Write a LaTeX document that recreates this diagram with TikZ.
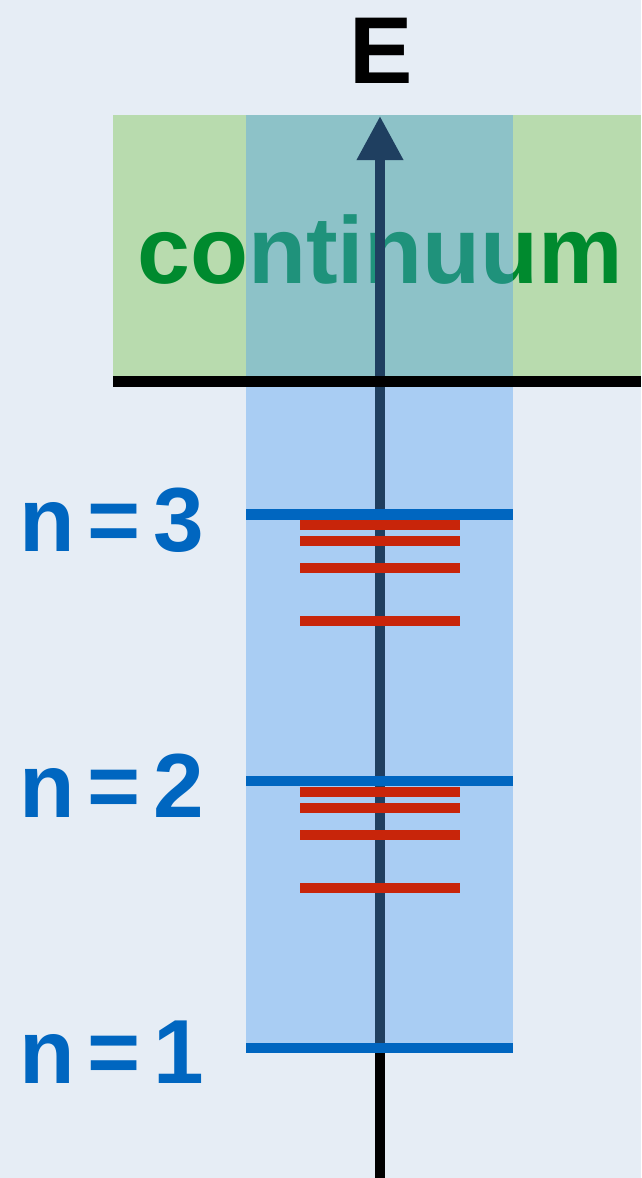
\documentclass[tikz,border=0pt]{standalone}
\usepackage{fontspec}
\setmainfont{Liberation Sans}
\usetikzlibrary{arrows.meta}
\definecolor{bgcol}{HTML}{E6EDF5}
\definecolor{contgreen}{HTML}{B8DBAE}
\definecolor{textgreen}{HTML}{008A2E}
\definecolor{colblue}{HTML}{4E9EF0}
\definecolor{levblue}{HTML}{0066C0}
\definecolor{finered}{HTML}{C8250A}
\tikzset{
  levelline/.style={draw=levblue, line width=10.5pt},
  fineline/.style={draw=finered, line width=10.8pt},
  nlabel/.style={text=levblue, font=\fontsize{91}{91}\selectfont\bfseries\addfontfeatures{LetterSpace=14}, inner sep=0pt, anchor=base west},
  bigtext/.style={font=\fontsize{95}{95}\selectfont\bfseries, inner sep=0pt, anchor=base},
}
\begin{document}
\begin{tikzpicture}[x=1pt,y=-1pt]
\useasboundingbox (0,0) rectangle (641,1178);
\fill[bgcol] (0,0) rectangle (641,1178);
% continuum region
\fill[contgreen] (113,115) rectangle (641,381);
\node[bigtext, text=textgreen] (cont) at (380,283) {continuum};
% energy axis
\coordinate (axbot) at (380,1178);
\coordinate (axtop) at (380,116);
\draw[line width=10pt, -{Triangle[width=44pt,length=44pt]}] (axbot) -- (axtop);
% blue column
\fill[colblue, opacity=0.4] (246,115) rectangle (513,1048);
% ionisation line
\coordinate (ionL) at (113,381);
\coordinate (ionR) at (641,381);
\draw[line width=11pt] (ionL) -- (ionR);
% levels
\foreach \n/\y in {3/514.5, 2/781, 1/1048} {
  \coordinate (L\n) at (246,\y);
  \coordinate (R\n) at (513,\y);
  \draw[levelline] (L\n) -- (R\n);
}
% fine structure
\foreach \i/\y in {a/525, b/541, c/568, d/621, e/792, f/808, g/835, h/888} {
  \coordinate (fL\i) at (300,\y);
  \coordinate (fR\i) at (460,\y);
  \draw[fineline] (fL\i) -- (fR\i);
}
% labels
\node[bigtext] (E) at (381.5,83) {E};
\node[nlabel] (n3) at (19.5,551) {n=3};
\node[nlabel] (n2) at (19.5,817) {n=2};
\node[nlabel] (n1) at (19.5,1083) {n=1};
\end{tikzpicture}
\end{document}
